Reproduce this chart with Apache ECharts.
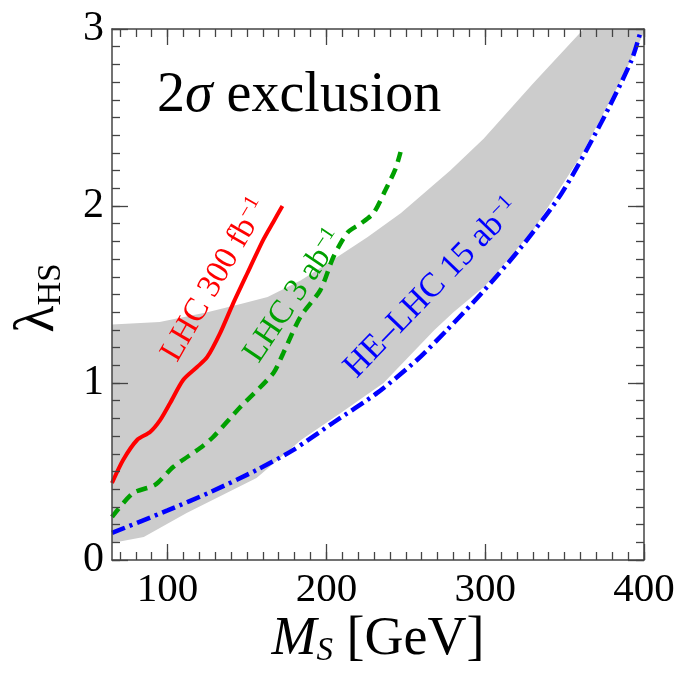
<!DOCTYPE html>
<html>
<head>
<meta charset="utf-8">
<script src="https://cdn.jsdelivr.net/npm/echarts@6/dist/echarts.min.js"></script>
<style>html,body{margin:0;padding:0;background:#fff;}#c{width:687px;height:675px;}</style>
</head>
<body>
<div id="c"></div>
<script>
// ---- data ----
const xMajorTicks = [100, 200, 300, 400];
const xMinorTicks = [70,80,90,100,110,120,130,140,150,160,170,180,190,200,210,220,230,240,250,260,270,280,290,300,310,320,330,340,350,360,370,380,390,400];
const yMajorTicks = [0, 1, 2, 3];
const yMinorTicks = [0,0.1,0.2,0.3,0.4,0.5,0.6,0.7,0.8,0.9,1,1.1,1.2,1.3,1.4,1.5,1.6,1.7,1.8,1.9,2,2.1,2.2,2.3,2.4,2.5,2.6,2.7,2.8,2.9,3];

const bandUpper = [[65,1.33],[95,1.345],[125,1.40],[146,1.446],[163,1.486],[184,1.58],[204,1.695],[226,1.825],[247,1.96],[278,2.20],[299,2.38],[330,2.69],[362,3.0],[400,3.0]];
const bandLower = [[65,0.096],[85,0.13],[112,0.266],[156,0.463],[184,0.678],[209,0.83],[236,1.0],[268,1.30],[280,1.40],[300,1.55],[330,1.86],[360,2.28],[385,2.70],[400,2.98]];

const lhc300 = [[65,0.435],[72,0.565],[80.8,0.678],[89,0.723],[95.3,0.79],[101.6,0.887],[109.8,1.017],[118.6,1.09],[125,1.147],[133,1.28],[141.3,1.45],[150.2,1.62],[160.3,1.81],[166.6,1.91],[172.3,2.0]];
const lhc3000 = [[65,0.243],[78.2,0.378],[92.1,0.424],[103.5,0.525],[120.5,0.633],[128.7,0.695],[145.8,0.864],[166.6,1.056],[172.9,1.17],[183.6,1.373],[196.2,1.525],[204.4,1.712],[213.3,1.85],[221.5,1.90],[229.7,1.96],[237.2,2.09],[243.5,2.21],[246.7,2.305]];
const helhc15 = [[65,0.153],[100,0.28],[127,0.384],[156,0.508],[179,0.621],[204,0.774],[232,0.944],[257,1.13],[276,1.30],[297,1.50],[322,1.76],[348,2.07],[373,2.47],[392,2.82],[398,2.99]];

const FONT = '"Liberation Serif", "DejaVu Serif", serif';
const AX = '#444';
const RED = '#ff0000', GREEN = '#00a000', BLUE = '#0000ff';

const chart = echarts.init(document.getElementById('c'), null, {renderer: 'canvas'});

function xAx(pos, ticks, len, showLine, showLabel) {
  return {
    type: 'value', position: pos, min: 65, max: 400, z: 10,
    axisLine: {show: showLine, onZero: false, lineStyle: {color: AX, width: 1.5}},
    axisTick: {show: true, inside: true, length: len, customValues: ticks, lineStyle: {color: AX, width: 1.3}},
    axisLabel: showLabel ? {show: true, customValues: xMajorTicks, fontFamily: FONT, fontSize: 41, color: '#000', margin: 10} : {show: false},
    splitLine: {show: false}
  };
}
function yAx(pos, ticks, len, showLine, showLabel) {
  return {
    type: 'value', position: pos, min: 0, max: 3, z: 10,
    axisLine: {show: showLine, onZero: false, lineStyle: {color: AX, width: 1.5}},
    axisTick: {show: true, inside: true, length: len, customValues: ticks, lineStyle: {color: AX, width: 1.3}},
    axisLabel: showLabel ? {show: true, customValues: yMajorTicks, fontFamily: FONT, fontSize: 42, color: '#000', margin: 8} : {show: false},
    splitLine: {show: false}
  };
}

const supStyle = (c) => ({fontFamily: FONT, fontSize: 21, fill: c, verticalAlign: 'top', padding: [0,0,14,0]});

chart.setOption({
  animation: false,
  backgroundColor: '#fff',
  grid: {left: 112, top: 29, right: 43, bottom: 115, containLabel: false},
  xAxis: [
    xAx('bottom', xMajorTicks, 16, true, true),
    xAx('bottom', xMinorTicks, 8, false, false),
    xAx('top', xMajorTicks, 16, true, false),
    xAx('top', xMinorTicks, 8, false, false)
  ],
  yAxis: [
    yAx('left', yMajorTicks, 16, true, true),
    yAx('left', yMinorTicks, 8, false, false),
    yAx('right', yMajorTicks, 16, true, false),
    yAx('right', yMinorTicks, 8, false, false)
  ],
  series: [
    {
      type: 'custom', xAxisIndex: 0, yAxisIndex: 0, z: 1, silent: true,
      data: [[65, 0]],
      renderItem: function (params, api) {
        const pts = bandUpper.map(p => api.coord(p)).concat(bandLower.slice().reverse().map(p => api.coord(p)));
        return {type: 'polygon', shape: {points: pts}, style: {fill: '#cccccc'}};
      }
    },
    {type: 'line', data: lhc300, showSymbol: false, smooth: 0.25, z: 3,
     lineStyle: {color: RED, width: 4}},
    {type: 'line', data: lhc3000, showSymbol: false, smooth: 0.25, z: 3,
     lineStyle: {color: GREEN, width: 4.5, type: [11, 7]}},
    {type: 'line', data: helhc15, showSymbol: false, smooth: 0.25, z: 3,
     lineStyle: {color: BLUE, width: 4.5, type: [14, 5, 3, 5]}}
  ],
  graphic: [
    {type: 'text', left: 157, top: 68, z: 20,
     style: {text: '{n|2}{s|σ}{n| exclusion}', rich: {
       n: {fontFamily: FONT, fontSize: 56, fill: '#000'},
       s: {fontFamily: FONT, fontSize: 56, fontStyle: 'italic', fill: '#000'}
     }}},
    {type: 'text', x: 378, y: 640, z: 20,
     style: {text: '{m|M}{s|S}{n| [GeV]}', align: 'center', verticalAlign: 'middle', rich: {
       m: {fontFamily: FONT, fontSize: 54, fontStyle: 'italic', fill: '#000'},
       s: {fontFamily: FONT, fontSize: 33, fontStyle: 'italic', fill: '#000', verticalAlign: 'bottom', padding: [22,0,0,0]},
       n: {fontFamily: FONT, fontSize: 54, fill: '#000'}
     }}},
    {type: 'text', x: 38, y: 298, rotation: Math.PI / 2, z: 20,
     style: {text: '{l|λ}{s|HS}', align: 'center', verticalAlign: 'middle', rich: {
       l: {fontFamily: FONT, fontSize: 56, fill: '#000'},
       s: {fontFamily: FONT, fontSize: 33, fill: '#000', verticalAlign: 'bottom', padding: [26,0,0,0]}
     }}},
    {type: 'text', x: 215, y: 280, rotation: 60 * Math.PI / 180, z: 20,
     style: {text: '{n|LHC 300 fb}{p|−1}', align: 'center', verticalAlign: 'middle', rich: {
       n: {fontFamily: FONT, fontSize: 33, fill: RED}, p: supStyle(RED)
     }}},
    {type: 'text', x: 294, y: 296, rotation: 56 * Math.PI / 180, z: 20,
     style: {text: '{n|LHC 3 ab}{p|−1}', align: 'center', verticalAlign: 'middle', rich: {
       n: {fontFamily: FONT, fontSize: 33, fill: GREEN}, p: supStyle(GREEN)
     }}},
    {type: 'text', x: 432, y: 288, rotation: 46 * Math.PI / 180, z: 20,
     style: {text: '{n|HE–LHC 15 ab}{p|−1}', align: 'center', verticalAlign: 'middle', rich: {
       n: {fontFamily: FONT, fontSize: 34, fill: BLUE}, p: supStyle(BLUE)
     }}}
  ]
});
</script>
</body>
</html>
